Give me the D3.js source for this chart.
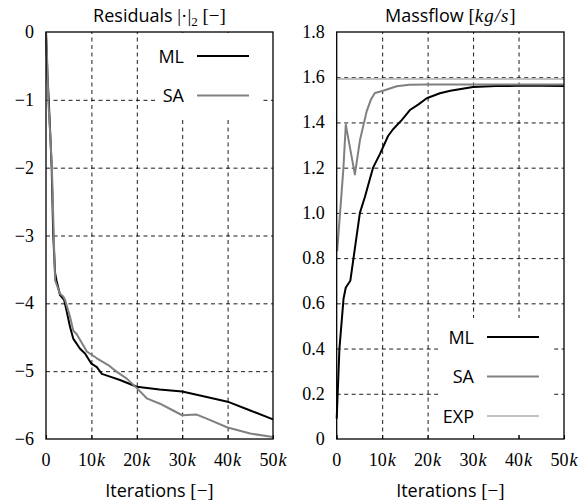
<!DOCTYPE html>
<html>
<head>
<meta charset="utf-8">
<script src="https://cdn.jsdelivr.net/npm/d3@7"></script>
<style>
  body { margin: 0; background: #fff; }
  .sans { font-family: "Open Sans", "Liberation Sans", sans-serif; }
  .serif { font-family: "Liberation Serif", "Times New Roman", serif; }
</style>
</head>
<body>
<svg id="chart" width="580" height="502"></svg>
<script>
// iterations in thousands
const resMLx = [0, 0.3, 0.6, 1.0, 1.25, 1.6, 2.0, 2.3, 3.1, 4.0, 4.5, 5.3, 6.0, 7.5, 8.6, 10, 11.2, 12.3, 14.1, 16.3, 20, 25, 30, 35.4, 40, 45, 50]
const resMLy = [0, -0.6, -1.0, -1.6, -2.0, -3.0, -3.55, -3.66, -3.88, -3.95, -4.1, -4.35, -4.52, -4.67, -4.74, -4.89, -4.94, -5.04, -5.08, -5.13, -5.23, -5.27, -5.30, -5.38, -5.45, -5.58, -5.71]

const resSAx = [0, 0.3, 0.5, 1.0, 1.3, 1.7, 2.0, 3.1, 3.8, 4.2, 5.3, 6.0, 6.8, 9.0, 11.2, 13.7, 15.6, 17.8, 20, 22.2, 25.1, 28, 30, 33.2, 35.4, 40, 45, 50]
const resSAy = [0, -0.5, -1.0, -1.6, -2.0, -3.0, -3.66, -3.86, -3.9, -3.95, -4.2, -4.40, -4.46, -4.71, -4.81, -4.91, -5.01, -5.11, -5.25, -5.40, -5.48, -5.58, -5.65, -5.64, -5.70, -5.83, -5.92, -5.97]

const mfMLx = [0, 0.6, 1.5, 2.0, 3.0, 5.1, 6.2, 7.3, 8.0, 9.5, 11.3, 12.4, 14.3, 16.1, 18, 19.8, 22.7, 25, 30, 35, 40, 45, 50]
const mfMLy = [0.09, 0.40, 0.62, 0.67, 0.70, 1.0, 1.07, 1.15, 1.2, 1.26, 1.34, 1.37, 1.41, 1.455, 1.48, 1.507, 1.529, 1.54, 1.557, 1.561, 1.562, 1.562, 1.561]

const mfSAx = [0.1, 1.45, 2.0, 3.0, 4.0, 5.1, 6.6, 7.5, 8.4, 10.2, 13.2, 16, 20, 30, 40, 50]
const mfSAy = [0.83, 1.19, 1.39, 1.28, 1.17, 1.32, 1.45, 1.50, 1.53, 1.54, 1.56, 1.567, 1.568, 1.568, 1.568, 1.568]

const mfEXPx = [0, 50]
const mfEXPy = [1.592, 1.592]

const xTicks = [0, 10, 20, 30, 40, 50]
const resTicks = [0, -1, -2, -3, -4, -5, -6]
const mfTicks = [0, 0.2, 0.4, 0.6, 0.8, 1.0, 1.2, 1.4, 1.6, 1.8]

const svg = d3.select("#chart")
const plotTop = 32, plotBottom = 439

function zip(xs, ys) { return xs.map((x, i) => [x, ys[i]]) }

function panel(opts) {
    const x = d3.scaleLinear().domain([0, 50]).range([opts.left, opts.right])
    const y = d3.scaleLinear().domain(opts.ydom).range([plotBottom, plotTop])
    const g = svg.append("g")

    // grid
    g.append("g")
        .attr("transform", "translate(0," + plotBottom + ")")
        .call(d3.axisBottom(x).tickValues(xTicks.slice(1, -1)).tickSize(-(plotBottom - plotTop)).tickFormat(""))
        .call(s => s.select(".domain").remove())
        .selectAll("line").attr("stroke", "#000").attr("stroke-width", 0.9).attr("stroke-dasharray", "4,3.5")
    g.append("g")
        .attr("transform", "translate(" + opts.left + ",0)")
        .call(d3.axisLeft(y).tickValues(opts.yticks.slice(1, -1)).tickSize(-(opts.right - opts.left)).tickFormat(""))
        .call(s => s.select(".domain").remove())
        .selectAll("line").attr("stroke", "#000").attr("stroke-width", 0.9).attr("stroke-dasharray", "4,3.5")

    // ticks inside, bottom
    g.append("g").attr("transform", "translate(0," + plotBottom + ")")
        .call(d3.axisBottom(x).tickValues(xTicks).tickSizeInner(-4).tickSizeOuter(0).tickFormat(""))
        .call(s => s.select(".domain").remove())

    // lines
    const line = d3.line().x(d => x(d[0])).y(d => y(d[1]))
    opts.series.forEach(s => {
        g.append("path").datum(s.data)
            .attr("fill", "none").attr("stroke", s.color).attr("stroke-width", 2)
            .attr("stroke-linejoin", "round").attr("d", line)
    })

    // legend
    const lg = g.append("g")
    lg.append("rect").attr("x", opts.legend.x0).attr("y", opts.legend.y0)
        .attr("width", opts.legend.x1 - opts.legend.x0).attr("height", opts.legend.y1 - opts.legend.y0)
        .attr("fill", "#fff")
    opts.series.forEach((s, i) => {
        const ly = opts.legend.first + i * 39.5
        lg.append("text").attr("class", "sans").attr("x", opts.legend.textX).attr("y", ly + 6.5)
            .attr("text-anchor", "end").attr("font-size", 18).text(s.name)
        lg.append("line").attr("x1", opts.legend.textX + 13).attr("x2", opts.legend.textX + 65)
            .attr("y1", ly).attr("y2", ly).attr("stroke", s.color).attr("stroke-width", 2)
    })

    // frame
    g.append("rect").attr("x", opts.left).attr("y", plotTop)
        .attr("width", opts.right - opts.left).attr("height", plotBottom - plotTop)
        .attr("fill", "none").attr("stroke", "#000").attr("stroke-width", 1.3)

    // tick labels
    xTicks.forEach(t => {
        const tx = g.append("text").attr("class", "serif").attr("font-size", 18)
            .attr("x", x(t)).attr("y", 466).attr("text-anchor", "middle")
        if (t === 0) tx.text("0")
        else {
            tx.append("tspan").text(t)
            tx.append("tspan").attr("font-style", "italic").attr("dx", 1).text("k")
        }
    })
    opts.yticks.forEach(t => {
        g.append("text").attr("class", "serif").attr("font-size", 18)
            .attr("x", opts.left - 12).attr("y", y(t) + 6).attr("text-anchor", "end")
            .text(opts.yfmt(t))
    })

    // axis label
    const xl = g.append("text").attr("x", (opts.left + opts.right) / 2).attr("y", 497)
        .attr("text-anchor", "middle").attr("font-size", 18)
    xl.append("tspan").attr("class", "sans").text("Iterations ")
    xl.append("tspan").attr("class", "serif").attr("font-size", 19).text("[−]")

    const tt = g.append("text").attr("x", (opts.left + opts.right) / 2).attr("y", 21.5)
        .attr("text-anchor", "middle").attr("font-size", 18)
    opts.title(tt)
}

panel({
    left: 46, right: 273, ydom: [-6, 0], yticks: resTicks,
    yfmt: t => t === 0 ? "0" : "−" + Math.abs(t),
    series: [
        { name: "ML", color: "#000", data: zip(resMLx, resMLy) },
        { name: "SA", color: "#808080", data: zip(resSAx, resSAy) }
    ],
    legend: { x0: 155, x1: 263, y0: 33, y1: 117, textX: 184, first: 56 },
    title: t => {
        t.append("tspan").attr("class", "sans").text("Residuals ")
        t.append("tspan").attr("class", "serif").attr("font-size", 19).text("|·|")
        t.append("tspan").attr("class", "serif").attr("font-size", 13).attr("dy", 4).text("2")
        t.append("tspan").attr("class", "serif").attr("font-size", 19).attr("dy", -4).text(" [−]")
    }
})

panel({
    left: 336.7, right: 564, ydom: [0, 1.8], yticks: mfTicks,
    yfmt: t => t === 0 ? "0" : d3.format(".1f")(t),
    series: [
        { name: "ML", color: "#000", data: zip(mfMLx, mfMLy) },
        { name: "SA", color: "#808080", data: zip(mfSAx, mfSAy) },
        { name: "EXP", color: "#c0c0c0", data: zip(mfEXPx, mfEXPy) }
    ],
    legend: { x0: 438, x1: 553, y0: 318, y1: 433, textX: 474, first: 337 },
    title: t => {
        t.append("tspan").attr("class", "sans").text("Massflow ")
        t.append("tspan").attr("class", "serif").attr("font-size", 19).text("[")
        t.append("tspan").attr("class", "serif").attr("font-size", 19).attr("font-style", "italic")
            .attr("letter-spacing", 1).text("kg/s")
        t.append("tspan").attr("class", "serif").attr("font-size", 19).text("]")
    }
})
</script>
</body>
</html>
